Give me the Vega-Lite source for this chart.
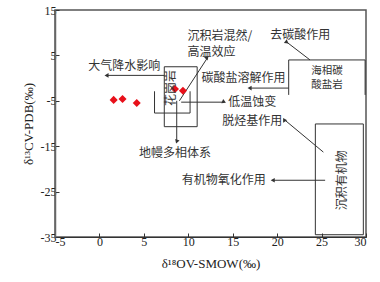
{
  "$schema": "https://vega.github.io/schema/vega-lite/v6.json",
  "width": 311,
  "height": 227,
  "autosize": {"type": "none"},
  "padding": {"left": 55, "top": 10, "right": 14, "bottom": 45},
  "config": {
    "view": {"stroke": "#555", "strokeWidth": 1.5},
    "font": "Liberation Serif",
    "axis": {"grid": false, "labelFont": "Liberation Serif", "labelFontSize": 12, "labelColor": "#222", "labelOverlap": false, "titleFont": "Liberation Serif", "titleFontSize": 13, "titleFontWeight": "normal", "titleColor": "#222", "domainColor": "#333", "tickColor": "#333", "tickSize": -4, "labelPadding": 3, "labelExpr": "'' + datum.value"},
    "axisY": {"labelOverlap": false, "labelBound": false},
    "axisQuantitative": {"labelOverlap": false}
  },
  "datasets": {
    "pts": [
      {"x": 1.6, "y": -4.8}, {"x": 2.6, "y": -4.6}, {"x": 4.2, "y": -5.5},
      {"x": 8.5, "y": -2.4}, {"x": 9.4, "y": -2.8}
    ],
    "boxes": [
      {"name": "花岗岩", "x": 7.3, "x2": 11.0, "y": 2.5, "y2": -10.7},
      {"name": "沉积有机物", "x": 24.3, "x2": 29.7, "y": -10.1, "y2": -34.5}
    ],
    "segs": [
      {"x": 6.2, "y": -2.9, "x2": 6.2, "y2": -7.7},
      {"x": 6.2, "y": -7.7, "x2": 10.2, "y2": -7.7},
      {"x": 10.2, "y": -7.7, "x2": 10.2, "y2": -2.9},
      {"x": 21.3, "y": -3.7, "x2": 21.3, "y2": 4.0},
      {"x": 21.3, "y": 4.0, "x2": 29.9, "y2": 4.0},
      {"x": 29.9, "y": 4.0, "x2": 29.9, "y2": -3.7},
      {"x": 7.3, "y": 0.6, "x2": 0.8, "y2": 0.6},
      {"x": 8.7, "y": -5.0, "x2": 8.7, "y2": -14.0},
      {"x": 9.0, "y": -5.0, "x2": 12.1, "y2": 4.3},
      {"x": 9.2, "y": -5.3, "x2": 13.9, "y2": -5.3},
      {"x": 21.3, "y": -2.2, "x2": 16.9, "y2": -2.2},
      {"x": 23.7, "y": 4.0, "x2": 21.1, "y2": 7.9},
      {"x": 25.2, "y": -16.3, "x2": 20.9, "y2": -9.3},
      {"x": 25.4, "y": -22.5, "x2": 19.5, "y2": -22.5}
    ],
    "heads": [
      {"x": 0.8, "y": 0.6, "dir": "left"},
      {"x": 8.7, "y": -14.0, "dir": "down"},
      {"x": 12.1, "y": 4.3, "dir": "ne"},
      {"x": 13.9, "y": -5.3, "dir": "right"},
      {"x": 16.9, "y": -2.2, "dir": "left"},
      {"x": 21.1, "y": 7.9, "dir": "nw1"},
      {"x": 20.9, "y": -9.3, "dir": "nw2"},
      {"x": 19.5, "y": -22.5, "dir": "left"}
    ],
    "ctext": [
      {"label": "大气降水影响", "x": 2.8, "y": 2.6},
      {"label": "地幔多相体系", "x": 8.5, "y": -16.5},
      {"label": "去碳酸作用", "x": 22.6, "y": 9.5},
      {"label": "碳酸盐溶解作用", "x": 16.2, "y": 0.0},
      {"label": "低温蚀变", "x": 17.2, "y": -5.3},
      {"label": "脱烃基作用", "x": 17.2, "y": -9.5},
      {"label": "有机物氧化作用", "x": 14.0, "y": -22.5}
    ],
    "btext": [
      {"label": "海相碳", "x": 25.6, "y": 1.5},
      {"label": "酸盐岩", "x": 25.6, "y": -1.6}
    ],
    "ltext": [
      {"label": "沉积岩混然/", "x": 9.9, "y": 9.2},
      {"label": "高温效应", "x": 9.9, "y": 5.7}
    ],
    "vtext": [
      {"label": "花岗岩", "x": 8.1, "y": -2.2},
      {"label": "沉积有机物", "x": 27.3, "y": -22.5}
    ]
  },
  "layer": [
    {
      "data": {"name": "boxes"},
      "mark": {"type": "rect", "fill": null, "fillOpacity": 0, "stroke": "#333", "strokeWidth": 1},
      "encoding": {
        "x": {"field": "x", "type": "quantitative", "scale": {"domain": [-5, 30], "nice": false}, "axis": {"values": [-5, 0, 5, 10, 15, 20, 25, 30], "title": "δ¹⁸OV-SMOW(‰)", "titlePadding": 10, "domainWidth": 1, "labelOverlap": false}},
        "x2": {"field": "x2"},
        "y": {"field": "y", "type": "quantitative", "scale": {"domain": [-35, 15], "nice": false}, "axis": {"values": [-35, -30, -25, -20, -15, -10, -5, 0, 5, 10, 15], "title": "δ¹³CV-PDB(‰)", "titlePadding": 5, "domainWidth": 1.5, "domainColor": "#666", "labelOverlap": false}},
        "y2": {"field": "y2"}
      }
    },
    {
      "data": {"name": "segs"},
      "mark": {"type": "rule", "stroke": "#333", "strokeWidth": 1},
      "encoding": {
        "x": {"field": "x", "type": "quantitative"},
        "x2": {"field": "x2"},
        "y": {"field": "y", "type": "quantitative"},
        "y2": {"field": "y2"}
      }
    },
    {
      "data": {"name": "heads"},
      "mark": {"type": "point", "shape": "triangle-up", "filled": true, "color": "#333", "size": 22, "opacity": 1},
      "encoding": {
        "x": {"field": "x", "type": "quantitative"},
        "y": {"field": "y", "type": "quantitative"},
        "angle": {"field": "dir", "type": "nominal", "scale": {"domain": ["left", "right", "down", "ne", "nw1", "nw2"], "range": [270, 90, 180, 32, 308, 310]}, "legend": null}
      }
    },
    {
      "data": {"name": "pts"},
      "mark": {"type": "point", "shape": "diamond", "filled": true, "color": "#e8101a", "size": 65, "opacity": 1},
      "encoding": {
        "x": {"field": "x", "type": "quantitative"},
        "y": {"field": "y", "type": "quantitative"}
      }
    },
    {
      "data": {"name": "ctext"},
      "mark": {"type": "text", "font": "Noto Sans CJK SC", "fontSize": 12, "color": "#333", "align": "center", "baseline": "middle"},
      "encoding": {
        "x": {"field": "x", "type": "quantitative"},
        "y": {"field": "y", "type": "quantitative"},
        "text": {"field": "label"}
      }
    },
    {
      "data": {"name": "btext"},
      "mark": {"type": "text", "font": "Noto Sans CJK SC", "fontSize": 10.5, "color": "#333", "align": "center", "baseline": "middle"},
      "encoding": {
        "x": {"field": "x", "type": "quantitative"},
        "y": {"field": "y", "type": "quantitative"},
        "text": {"field": "label"}
      }
    },
    {
      "data": {"name": "ltext"},
      "mark": {"type": "text", "font": "Noto Sans CJK SC", "fontSize": 12, "color": "#333", "align": "left", "baseline": "middle"},
      "encoding": {
        "x": {"field": "x", "type": "quantitative"},
        "y": {"field": "y", "type": "quantitative"},
        "text": {"field": "label"}
      }
    },
    {
      "data": {"name": "vtext"},
      "mark": {"type": "text", "font": "Noto Sans CJK SC", "fontSize": 12, "color": "#333", "align": "center", "baseline": "middle", "angle": 270},
      "encoding": {
        "x": {"field": "x", "type": "quantitative"},
        "y": {"field": "y", "type": "quantitative"},
        "text": {"field": "label"}
      }
    }
  ]
}
